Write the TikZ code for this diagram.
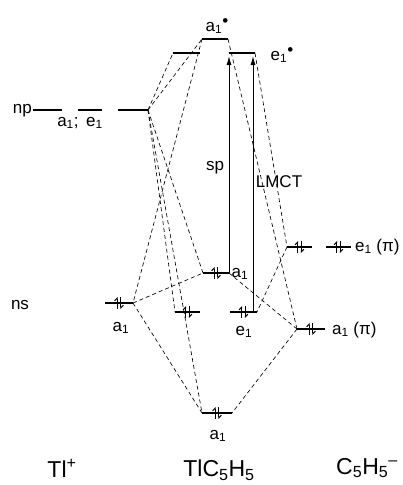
\documentclass[tikz,border=0pt]{standalone}
\usepackage{fontspec}
\setmainfont{Liberation Sans}
\usetikzlibrary{arrows.meta,calc}
\newcommand\mklevel[4]{%
  \coordinate (#1-L) at (#2,#4);
  \coordinate (#1-R) at (#3,#4);
  \coordinate (#1-C) at ({(#2+#3)/2},#4);
  \draw[lvl] (#1-L) -- (#1-R);}
\newcommand\epair[1]{%
  \draw[elec] ($(#1-C)+(-1.9,6)$) -- ($(#1-C)+(-1.9,-6)$);
  \draw[elec] ($(#1-C)+(1.9,-6)$) -- ($(#1-C)+(1.9,6)$);}
\newcommand\exdot{\raisebox{0.55ex}{\fontsize{17}{17}\selectfont\textbullet}}
\tikzset{
  lvl/.style={line width=2.6pt},
  elec/.style={line width=1pt,-{Straight Barb[harpoon,length=2.5pt,width=5pt]}},
  conn/.style={line width=0.65pt,dash pattern=on 4pt off 3pt},
  excite/.style={line width=1pt,-{Latex[length=9pt,width=5pt]}},
  lab/.style={font=\fontsize{17}{17}\selectfont,inner sep=0pt},
  biglab/.style={font=\fontsize{23}{23}\selectfont,inner sep=0pt},
}
\begin{document}
\begin{tikzpicture}[x=1pt,y=-1pt]
\useasboundingbox (0,0) rectangle (403,485);
% levels
\mklevel{npa}{33}{62}{110}
\mklevel{npb}{78}{102}{110}
\mklevel{npc}{118}{148}{110}
\mklevel{e1sL}{173}{200}{53}
\mklevel{a1s}{202}{228}{39}
\mklevel{e1sR}{229}{255}{53}
\mklevel{ns}{105}{133}{303}
\mklevel{ma1}{203}{229}{273}
\mklevel{me1L}{175}{200}{312}
\mklevel{me1R}{230}{257}{312}
\mklevel{e1pL}{287}{312}{247}
\mklevel{e1pR}{326}{351}{247}
\mklevel{a1p}{297}{325}{329}
\mklevel{ba1}{202}{232}{413}
% electron pairs
\epair{ns}
\epair{ma1}
\epair{me1L}
\epair{me1R}
\epair{e1pL}
\epair{e1pR}
\epair{a1p}
\epair{ba1}
% correlation lines
\draw[conn] (npc-R) -- (e1sL-L);
\draw[conn] (npc-R) -- (a1s-L);
\draw[conn] (npc-R) -- (ma1-L);
\draw[conn] (npc-R) -- (me1L-L);
\draw[conn] (npc-R) -- (ba1-L);
\draw[conn] (a1s-L) -- (ns-R);
\draw[conn] (ns-R) -- (ma1-L);
\draw[conn] (ns-R) -- (ba1-L);
\draw[conn] (a1s-R) -- (a1p-L);
\draw[conn] (e1sR-R) -- (e1pL-L);
\draw[conn] (ma1-R) -- (a1p-L);
\draw[conn] (e1pL-L) -- (me1R-R);
\draw[conn] (a1p-L) -- (ba1-R);
% excitations
\coordinate (sptop) at (229,56);
\coordinate (lmcttop) at (253,56);
\coordinate (lmctbot) at (253,312);
\draw[excite] (ma1-R) -- (sptop);
\draw[excite] (lmctbot) -- (lmcttop);
% labels
\node[lab,anchor=east] (l-np) at (32,111) {np};
\node[lab] (l-npsym) at (80,123) {a\textsubscript{1}; \,e\textsubscript{1}};
\node[lab] (l-a1s) at (217,26) {a\textsubscript{1}\exdot};
\node[lab] (l-e1s) at (282,55) {e\textsubscript{1}\exdot};
\node[lab] (l-sp) at (215,168) {sp};
\node[lab] (l-lmct) at (279,182) {LMCT};
\node[lab] (l-ma1) at (240,274) {a\textsubscript{1}};
\node[lab] (l-ns) at (20,305) {ns};
\node[lab] (l-nsa1) at (121,328) {a\textsubscript{1}};
\node[lab] (l-me1) at (244,332) {e\textsubscript{1}};
\node[lab,anchor=west] (l-a1p) at (332,330) {a\textsubscript{1} (π)};
\node[lab,anchor=west] (l-e1p) at (355,247) {e\textsubscript{1} (π)};
\node[lab] (l-ba1) at (218,436) {a\textsubscript{1}};
\node[biglab] (t1) at (62,468) {Tl\textsuperscript{+}};
\node[biglab] (t2) at (219,470) {TlC\textsubscript{5}H\textsubscript{5}};
\node[biglab] (t3) at (367,468) {C\textsubscript{5}H\textsubscript{5}\textsuperscript{–}};
\end{tikzpicture}
\end{document}
